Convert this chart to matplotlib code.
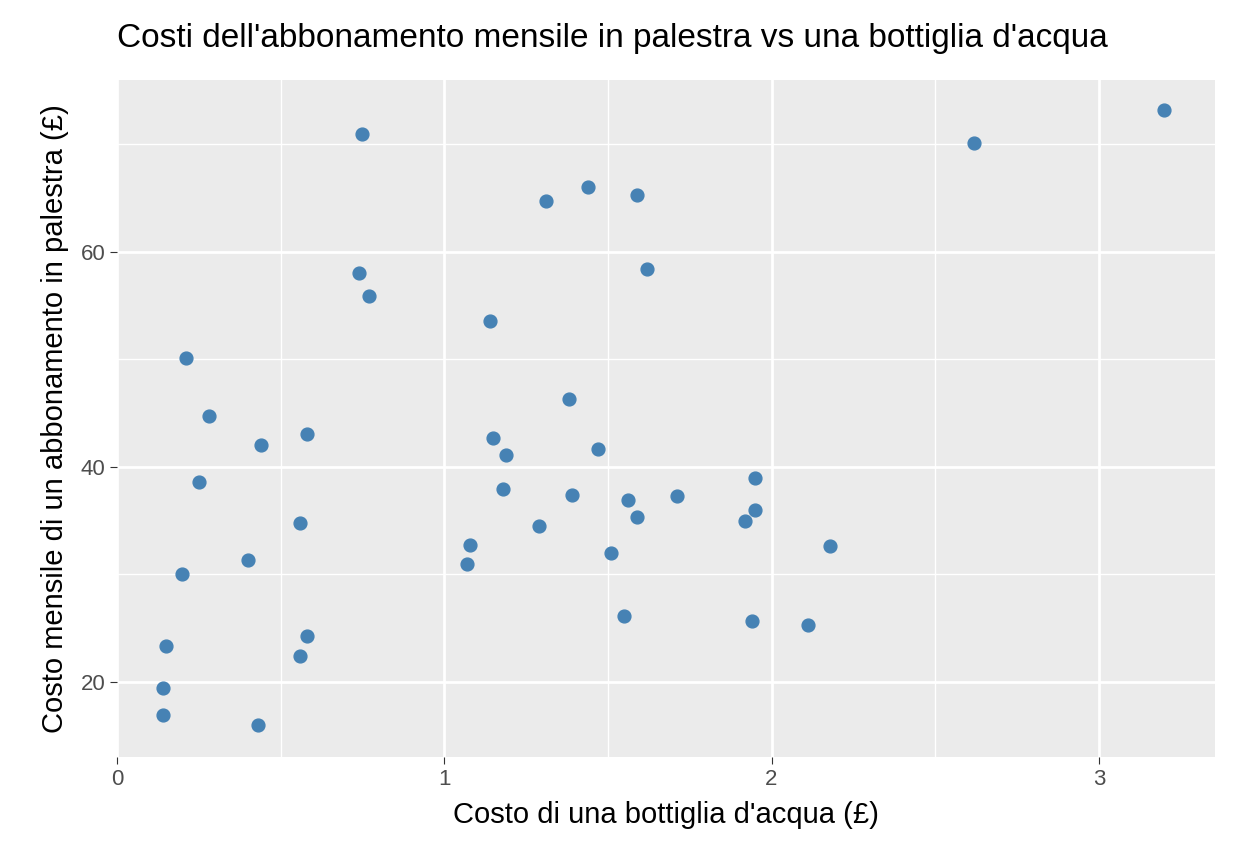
import matplotlib
matplotlib.use("Agg")
import matplotlib.pyplot as plt

plt.rcParams['font.family'] = ['Liberation Sans', 'DejaVu Sans']

# Bottle of water cost (GBP) vs monthly gym membership (GBP)
water_cost = [0.21, 0.28, 0.44, 0.58, 0.25, 0.56, 0.40, 0.20, 0.15, 0.14, 0.14, 0.43,
              0.58, 0.56, 0.75, 0.74, 0.77, 1.14, 1.31, 1.44, 1.59, 1.62, 1.38, 1.15,
              1.19, 1.47, 1.18, 1.39, 1.56, 1.71, 1.59, 1.29, 1.08, 1.07, 1.51, 1.55,
              1.95, 1.92, 1.95, 2.18, 1.94, 2.11, 2.62, 3.20]
gym_cost = [50.1, 44.7, 42.0, 43.1, 38.6, 34.8, 31.3, 30.0, 23.3, 19.4, 16.9, 16.0,
            24.3, 22.4, 71.0, 58.0, 55.9, 53.6, 64.7, 66.0, 65.3, 58.4, 46.3, 42.7,
            41.1, 41.7, 37.9, 37.4, 36.9, 37.3, 35.3, 34.5, 32.7, 31.0, 32.0, 26.1,
            39.0, 35.0, 36.0, 32.6, 25.7, 25.3, 70.1, 73.2]

fig = plt.figure(figsize=(12.34, 8.64), dpi=100)
ax = fig.add_axes([0.0948, 0.1238, 0.8898, 0.7836])
ax.set_facecolor("#EBEBEB")
for s in ax.spines.values():
    s.set_visible(False)

ax.set_xlim(0, 3.355)
ax.set_ylim(13, 76)
ax.set_xticks([0, 1, 2, 3])
ax.set_yticks([20, 40, 60])
ax.set_xticks([0.5, 1.5, 2.5], minor=True)
ax.set_yticks([30, 50, 70], minor=True)
ax.grid(which="major", color="white", linewidth=2)
ax.grid(which="minor", color="white", linewidth=1)
ax.set_axisbelow(True)
ax.tick_params(which="major", length=5, color="#333333", labelsize=16, labelcolor="#4D4D4D")
ax.tick_params(which="minor", length=0)

ax.scatter(water_cost, gym_cost, s=85, color="steelblue", zorder=3)

ax.set_xlabel("Costo di una bottiglia d'acqua (£)", fontsize=21, labelpad=8)
ax.set_ylabel("Costo mensile di un abbonamento in palestra (£)", fontsize=21, labelpad=8)
fig.text(0.0948, 0.955, "Costi dell'abbonamento mensile in palestra vs una bottiglia d'acqua",
         fontsize=24, va="center", ha="left")

fig.savefig("out.png", dpi=100)
